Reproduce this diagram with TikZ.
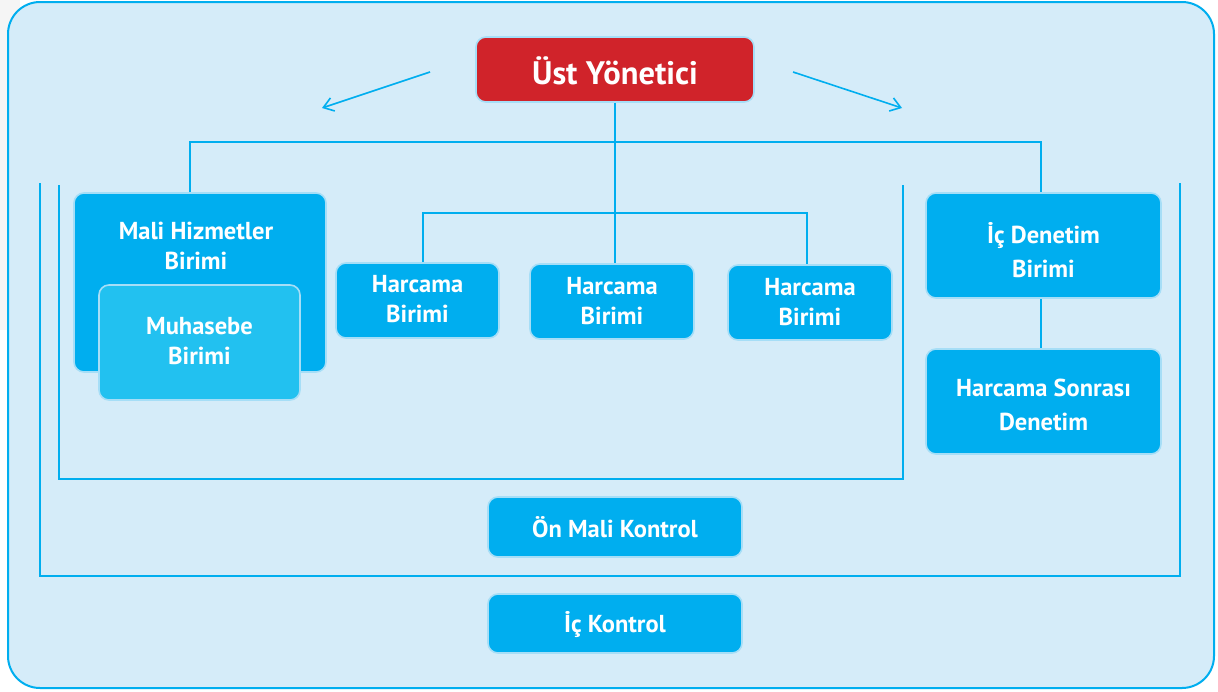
\documentclass[tikz,border=0pt]{standalone}
\usepackage{fontspec}
\setmainfont{PT Sans}
\usetikzlibrary{arrows.meta}
\definecolor{cyanm}{HTML}{00AEEF}
\definecolor{cyanl}{HTML}{22C1F0}
\definecolor{bgl}{HTML}{D5ECF9}
\definecolor{halo}{HTML}{A6DEF7}
\definecolor{redb}{HTML}{D0232A}
\tikzset{
  box/.style={rectangle, rounded corners=10pt, fill=cyanm, draw=halo, line width=1.6pt, inner sep=0pt},
  lbl/.style={text=white, font=\bfseries\fontsize{24.5}{30}\selectfont, align=center, inner sep=0pt},
  lblb/.style={text=white, font=\bfseries\fontsize{24.5}{34}\selectfont, align=center, inner sep=0pt},
  conn/.style={draw=cyanm, line width=1.4pt},
  brk/.style={draw=cyanm, line width=1.6pt},
  arr/.style={draw=cyanm, line width=1.6pt, -{Straight Barb[angle=70:12pt, line width=1.6pt]}}
}
\begin{document}
\begin{tikzpicture}[x=1pt,y=-1pt]
\useasboundingbox (0,0) rectangle (1218,691);
\fill[white] (0,0) rectangle (1218,691);
\fill[gray!8] (0,0) rectangle (20,330);
\draw[fill=bgl, draw=cyanm, line width=2pt, rounded corners=32pt] (8,2) rectangle (1214,688);

% brackets
\draw[brk] (59,185) -- (59,479) -- (903,479) -- (903,185);
\draw[brk] (40,183) -- (40,576) -- (1180,576) -- (1180,183);

% top node
\node[box, fill=redb, minimum width=278pt, minimum height=65pt] (ust) at (615,69.5) {};
\node[text=white, font=\bfseries\fontsize{32.5}{36}\selectfont, inner sep=0pt] (ustt) at (615,71) {Üst Yönetici};

% arrows
\coordinate (a1s) at (430,72); \coordinate (a1e) at (322,108);
\coordinate (a2s) at (793,72); \coordinate (a2e) at (902,108);
\draw[arr] (a1s) -- (a1e);
\draw[arr] (a2s) -- (a2e);

% boxes
\node[box, minimum width=252pt, minimum height=179pt] (mali) at (200,282.5) {};
\node[lbl] (malit) at (196,246) {Mali Hizmetler\\Birimi};
\node[box, fill=cyanl, minimum width=201pt, minimum height=115pt] (muh) at (199.5,342.5) {};
\node[lbl] (muht) at (199.5,341.5) {Muhasebe\\Birimi};

\node[box, minimum width=163pt, minimum height=75pt] (h1) at (417.5,300.5) {};
\node[lbl] (h1t) at (417.5,299) {Harcama\\Birimi};
\node[box, minimum width=164pt, minimum height=75pt] (h2) at (612,301.5) {};
\node[lbl] (h2t) at (612,301) {Harcama\\Birimi};
\node[box, minimum width=164pt, minimum height=75pt] (h3) at (810,302.5) {};
\node[lbl] (h3t) at (810,302) {Harcama\\Birimi};

\node[box, minimum width=235pt, minimum height=105pt] (icd) at (1043.5,245.5) {};
\node[lblb] (icdt) at (1043.5,250) {İç Denetim\\Birimi};
\node[box, minimum width=235pt, minimum height=105pt] (hsd) at (1043.5,401.5) {};
\node[lblb] (hsdt) at (1043.5,405) {Harcama Sonrası\\Denetim};

\node[box, minimum width=254pt, minimum height=60pt] (onm) at (615,527) {};
\node[lbl] (onmt) at (615,527) {Ön Mali Kontrol};
\node[box, minimum width=254pt, minimum height=59pt] (ick) at (615,623.5) {};
\node[lbl] (ickt) at (615,625) {İç Kontrol};

% connectors
\coordinate (bl) at (190,142);
\coordinate (br) at (1041,142);
\coordinate (hl) at (423,213);
\coordinate (hr) at (807,213);
\draw[conn] (ust.south) -- (ust.south |- h2.north);
\draw[conn] (mali.north -| bl) -- (bl) -- (br) -- (icd.north -| br);
\draw[conn] (h1.north -| hl) -- (hl) -- (hr) -- (h3.north -| hr);
\draw[conn] (icd.south -| br) -- (hsd.north -| br);
\end{tikzpicture}
\end{document}
